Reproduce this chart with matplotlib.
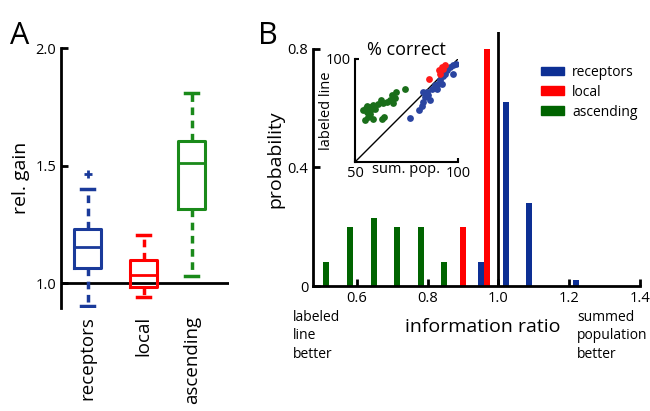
import matplotlib
matplotlib.use("Agg")
import matplotlib.pyplot as plt
from matplotlib.patches import Patch

plt.rcParams['font.family'] = ['Open Sans', 'DejaVu Sans']

# ---- Panel A data (box plot stats) ----
box_labels = ['receptors', 'local', 'ascending']
box_q1 = [1.064, 0.983, 1.315]
box_med = [1.153, 1.034, 1.510]
box_q3 = [1.230, 1.100, 1.604]
box_lo = [0.902, 0.940, 1.030]
box_hi = [1.400, 1.204, 1.810]
box_fliers = [[1.464], [], []]
box_colors = ['#1a3a9a', '#ff0000', '#1a8a1a']

# ---- Panel B data (histogram of information ratio) ----
green_x = [0.512, 0.580, 0.647, 0.713, 0.780, 0.846]
green_y = [0.08, 0.20, 0.23, 0.20, 0.20, 0.08]
red_x = [0.899, 0.967]
red_y = [0.20, 0.80]
blue_x = [0.952, 1.020, 1.087, 1.220]
blue_y = [0.08, 0.62, 0.28, 0.02]
series_names = ['receptors', 'local', 'ascending']

# ---- Inset data (% correct) ----
ins_green_x = [74.3, 69.9, 67.8, 69.4, 67.0, 65.4, 68.6, 63.8, 62.5, 61.3, 58.9, 58.1,
               55.3, 54.0, 55.7, 57.3, 56.5, 58.9, 62.9, 64.1, 59.7, 54.9, 57.3, 56.0]
ins_green_y = [85.6, 84.0, 82.4, 81.2, 79.9, 79.1, 78.6, 78.6, 79.9, 78.3, 77.5, 75.9,
               76.4, 75.4, 74.3, 73.5, 71.8, 71.0, 71.0, 71.8, 75.9, 70.2, 76.7, 77.0]
ins_blue_x = [76.7, 81.2, 82.4, 83.2, 84.0, 84.8, 82.8, 85.6, 87.2, 88.8, 90.5, 91.3,
              92.6, 93.7, 94.8, 96.1, 97.7, 99.0, 97.7, 92.1, 89.6, 86.4]
ins_blue_y = [71.5, 75.1, 77.0, 79.1, 81.6, 84.0, 84.0, 82.4, 85.6, 87.2, 88.0, 90.0,
              91.6, 92.9, 94.5, 96.1, 96.9, 97.7, 92.9, 88.0, 85.6, 79.9]
ins_red_x = [86.1, 90.9, 92.1, 93.7, 92.9, 91.3]
ins_red_y = [90.5, 94.5, 96.1, 96.9, 95.3, 92.9]

BLUE = '#0d2f94'
RED = '#ff0000'
GREEN = '#006400'

fig = plt.figure(figsize=(6.5, 4.11), dpi=100)

# ================= Panel A =================
axA = fig.add_axes([61/650, 1-308/411, 168/650, 260/411])
positions = [1, 2.05, 2.95]
for i in range(3):
    st = [dict(med=box_med[i], q1=box_q1[i], q3=box_q3[i], whislo=box_lo[i],
               whishi=box_hi[i], fliers=box_fliers[i])]
    c = box_colors[i]
    axA.bxp(st, positions=[positions[i]], widths=0.5, showfliers=True,
            boxprops=dict(color=c, linewidth=2.2),
            medianprops=dict(color=c, linewidth=2.0),
            whiskerprops=dict(color=c, linewidth=2.5, linestyle=(0, (2.2, 1.6))),
            capprops=dict(color=c, linewidth=2.5),
            capwidths=0.25,
            flierprops=dict(marker='+', markeredgecolor=c, markersize=6, markeredgewidth=2))
axA.axhline(1.0, color='black', linewidth=2, zorder=0)
axA.set_xlim(0.5, 3.65)
axA.set_ylim(0.894, 2.0)
axA.set_yticks([1.0, 1.5, 2.0])
axA.set_yticklabels(['1.0', '1.5', '2.0'])
axA.set_xticks(positions)
axA.set_xticklabels(box_labels, rotation=90, fontsize=13.5)
axA.tick_params(axis='x', length=0, pad=6)
axA.tick_params(axis='y', direction='in', length=5, width=2, labelsize=10.5)
for s in ['top', 'right', 'bottom']:
    axA.spines[s].set_visible(False)
axA.spines['left'].set_linewidth(2)
axA.set_ylabel('rel. gain', fontsize=14, labelpad=4)
fig.text(10/650, 1-44/411, 'A', fontsize=22)

# ================= Panel B =================
axB = fig.add_axes([313/650, 1-286/411, 327/650, 254/411])
w = 0.017
axB.bar(blue_x, blue_y, width=w, color=BLUE, label=series_names[0])
axB.bar(red_x, red_y, width=w, color=RED, label=series_names[1])
axB.bar(green_x, green_y, width=w, color=GREEN, label=series_names[2])
axB.axvline(1.0, ymin=0, ymax=1, color='black', linewidth=2)
axB.set_xlim(0.476, 1.4)
axB.set_ylim(0, 0.857)
axB.set_xticks([0.6, 0.8, 1.0, 1.2, 1.4])
axB.set_xticklabels(['0.6', '0.8', '1.0', '1.2', '1.4'])
axB.set_yticks([0, 0.4, 0.8])
axB.set_yticklabels(['0', '0.4', '0.8'])
axB.tick_params(direction='in', length=5, width=2, labelsize=10.5)
for s in ['top', 'right']:
    axB.spines[s].set_visible(False)
axB.spines['left'].set_bounds(0, 0.8)
axB.spines['left'].set_linewidth(2)
axB.spines['bottom'].set_linewidth(2)
axB.set_ylabel('probability', fontsize=14, labelpad=2)
leg = axB.legend(handles=[Patch(color=BLUE, label=series_names[0]),
                          Patch(color=RED, label=series_names[1]),
                          Patch(color=GREEN, label=series_names[2])],
                 loc='upper left', bbox_to_anchor=(0.66, 0.92), frameon=False,
                 fontsize=10, handlelength=1.6, handleheight=0.6,
                 handletextpad=0.6, labelspacing=0.35)
fig.text(258/650, 1-44/411, 'B', fontsize=22)
fig.text(483/650, 1-332/411, 'information ratio', fontsize=14, ha='center')
fig.text(293/650, 1-310/411, 'labeled\nline\nbetter', fontsize=10, va='top',
         linespacing=1.3)
fig.text(577/650, 1-310/411, 'summed\npopulation\nbetter', fontsize=10, va='top',
         linespacing=1.3)

# ================= Inset =================
axI = fig.add_axes([355/650, 1-162/411, 103/650, 103/411])
axI.plot([50, 100], [50, 100], color='black', linewidth=1)
axI.scatter(ins_green_x, ins_green_y, s=24, color='#1a6e1a', zorder=3, linewidths=0)
axI.scatter(ins_blue_x, ins_blue_y, s=24, color='#2a44a0', zorder=3, linewidths=0)
axI.scatter(ins_red_x, ins_red_y, s=24, color='#ff1a1a', zorder=3, linewidths=0)
axI.set_xlim(50, 100)
axI.set_ylim(50, 100)
axI.set_xticks([50, 100])
axI.set_yticks([100])
axI.set_xticklabels(['50', '100'])
axI.set_yticklabels(['100'])
axI.tick_params(direction='in', length=3, width=1.5, labelsize=10.5, pad=3)
for s in ['top', 'right']:
    axI.spines[s].set_visible(False)
axI.spines['left'].set_linewidth(1.5)
axI.spines['bottom'].set_linewidth(1.5)
axI.set_xlabel('sum. pop.', fontsize=10.5, labelpad=-14)
axI.set_ylabel('labeled line', fontsize=10.5, labelpad=-6)
axI.set_title('% correct', fontsize=13, pad=3)

fig.savefig('out.png', dpi=100)
